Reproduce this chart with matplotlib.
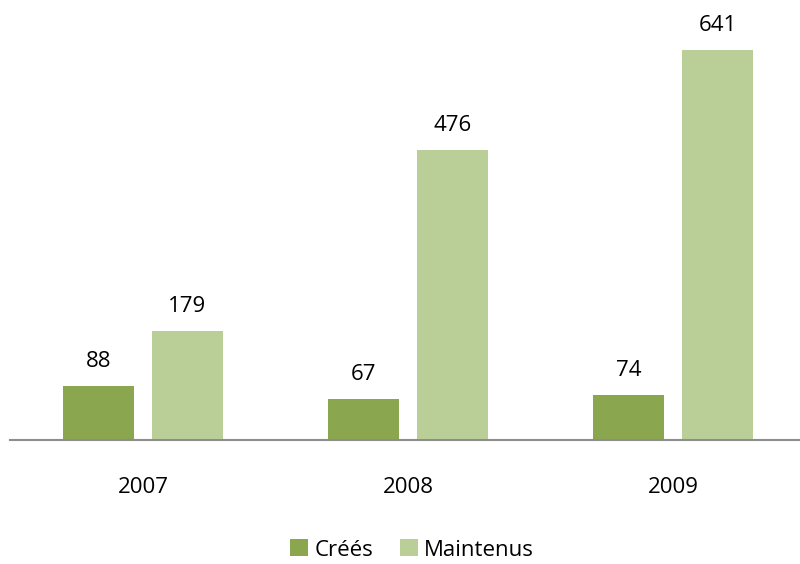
import matplotlib
matplotlib.use("Agg")
import matplotlib.pyplot as plt
import numpy as np

annees = ["2007", "2008", "2009"]
crees = [88, 67, 74]
maintenus = [179, 476, 641]

COL_CREES = "#8aa64e"
COL_MAINT = "#bacf98"

plt.rcParams["font.family"] = ["Open Sans", "DejaVu Sans"]

fig = plt.figure(figsize=(8.0, 5.64), dpi=100)
ax = fig.add_axes([0.013, 0.22, 0.994, 0.78])

x = np.arange(len(annees))
w = 0.268
off = 0.168
b1 = ax.bar(x - off, crees, w, color=COL_CREES, label="Créés")
b2 = ax.bar(x + off, maintenus, w, color=COL_MAINT, label="Maintenus")

for bars in (b1, b2):
    for r in bars:
        ax.annotate(f"{int(r.get_height())}", (r.get_x() + r.get_width() / 2, r.get_height()),
                    xytext=(0, 10), textcoords="offset points", ha="center", va="bottom",
                    fontsize=16)

ax.set_xlim(-0.5, 2.5)
ax.set_ylim(0, 723)
for s in ("top", "right", "left"):
    ax.spines[s].set_visible(False)
ax.spines["bottom"].set_color("#8c8c8c")
ax.spines["bottom"].set_linewidth(1.5)
ax.set_yticks([])
ax.set_xticks(x)
ax.set_xticklabels(annees, fontsize=16)
ax.tick_params(axis="x", length=0, pad=27)

fig.legend(handles=[b1, b2], labels=["Créés", "Maintenus"], loc="center",
           bbox_to_anchor=(0.515, 0.025), ncol=2, frameon=False, fontsize=16,
           handlelength=0.8, handleheight=0.8, handletextpad=0.3, columnspacing=1.2)

fig.savefig("out.png", dpi=100)
